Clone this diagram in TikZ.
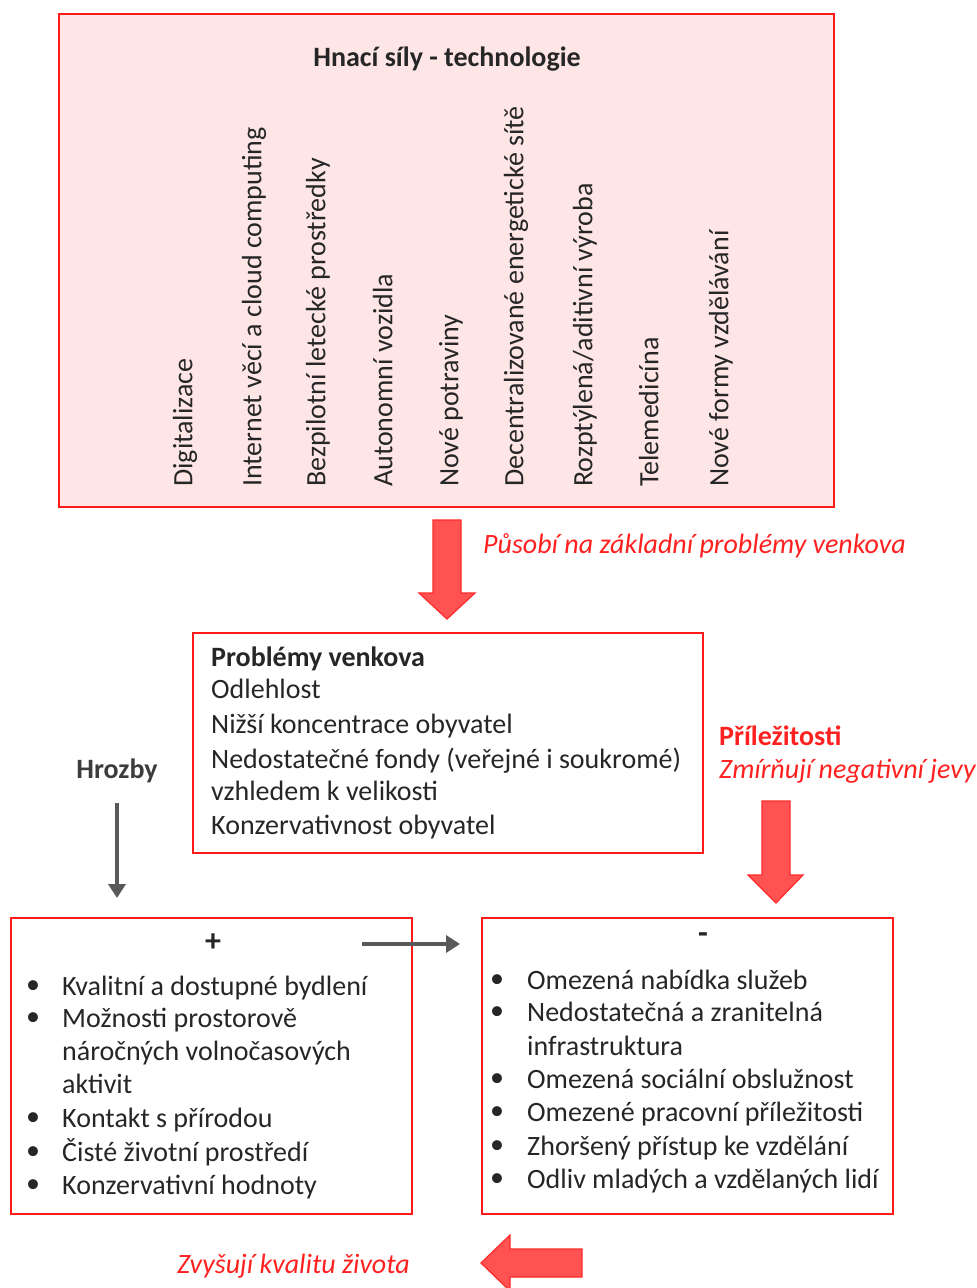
\documentclass[tikz,border=0pt]{standalone}
\usepackage{fontspec}
\setmainfont{Carlito}
\definecolor{boxred}{HTML}{FF1A1A}
\definecolor{pinkfill}{HTML}{FFE6E6}
\definecolor{arrowfill}{HTML}{FF5353}
\definecolor{arrowline}{HTML}{FF2A2A}
\definecolor{labred}{HTML}{FF2020}
\definecolor{txt}{HTML}{262626}
\definecolor{grayarrow}{HTML}{595959}
\usetikzlibrary{arrows.meta}
\tikzset{
  redbox/.style={draw=boxred, line width=1.6pt},
  body/.style={inner sep=0pt, anchor=mid west, text=txt, font=\fontsize{28}{33}\selectfont},
  vlab/.style={body, rotate=90},
  bul/.style={inner sep=0pt, anchor=mid, text=txt, font=\fontsize{28}{33}\selectfont},
  redlab/.style={inner sep=0pt, anchor=mid west, text=labred, font=\fontsize{28}{33}\selectfont\itshape},
  blockarrow/.style={fill=arrowfill, draw=arrowline, line width=1.2pt, line join=miter},
  grayarr/.style={draw=grayarrow, line width=3.5pt, -{Triangle[length=14pt,width=17pt]}}
}
\begin{document}
\begin{tikzpicture}[x=1pt,y=-1pt]
\useasboundingbox (0,0) rectangle (977,1288);
% top box
\draw[redbox, fill=pinkfill] (59,14) rectangle (834,507);
\node[inner sep=0pt, text=txt, font=\fontsize{28}{33}\selectfont\bfseries] (title) at (447,59) {Hnací síly - technologie};
\node[vlab] (t1) at (190,487) {Digitalizace};
\node[vlab] (t2) at (259,487) {Internet věcí a cloud computing};
\node[vlab] (t3) at (323,487) {Bezpilotní letecké prostředky};
\node[vlab] (t4) at (390,487) {Autonomní vozidla};
\node[vlab] (t5) at (456,487) {Nové potraviny};
\node[vlab] (t6) at (521,487) {Decentralizované energetické sítě};
\node[vlab] (t7) at (590,487) {Rozptýlená/aditivní výroba};
\node[vlab] (t8) at (656,487) {Telemedicína};
\node[vlab] (t9) at (726,487) {Nové formy vzdělávání};
% arrow 1
\draw[blockarrow] (433,520) -- (461,520) -- (461,593) -- (475,593) -- (447,619) -- (419,593) -- (433,593) -- cycle;
\node[redlab] (l1) at (483,551) {Působí na základní problémy venkova};
% middle box
\draw[redbox] (193,633) rectangle (703,853);
\node[body, font=\fontsize{28}{33}\selectfont\bfseries] (m0) at (211,664) {Problémy venkova};
\node[body] (m1) at (211,696) {Odlehlost};
\node[body] (m2) at (211,731) {Nižší koncentrace obyvatel};
\node[body] (m3) at (211,766) {Nedostatečné fondy (veřejné i soukromé)};
\node[body] (m4) at (211,798) {vzhledem k velikosti};
\node[body] (m5) at (211,832) {Konzervativnost obyvatel};
% Hrozby
\node[inner sep=0pt, text=txt!90, font=\fontsize{28}{33}\selectfont\bfseries] (hr) at (117,771) {Hrozby};
\coordinate (g1s) at (117,803);
\coordinate (g1e) at (117,898);
\draw[grayarr] (g1s) -- (g1e);
% Prilezitosti
\node[inner sep=0pt, anchor=mid west, text=labred, font=\fontsize{28}{33}\selectfont\bfseries] (pr) at (719,743) {Příležitosti};
\node[redlab] (pr2) at (719,776) {Zmírňují negativní jevy};
\draw[blockarrow] (762,801) -- (790,801) -- (790,875) -- (803,875) -- (776,903) -- (748,875) -- (762,875) -- cycle;
% left box
\draw[redbox] (11,918) rectangle (412,1214);
\node[inner sep=0pt, text=txt, font=\fontsize{32}{33}\selectfont\bfseries] (plus) at (213,943) {+};
\foreach \y/\t [count=\i] in {993/Kvalitní a dostupné bydlení, 1025/Možnosti prostorově, 1058/náročných volnočasových, 1091/aktivit, 1125/Kontakt s přírodou, 1159/Čisté životní prostředí, 1192/Konzervativní hodnoty}{
  \node[body] (a\i) at (62,\y) {\t};
}
\foreach \y [count=\i] in {991,1023,1123,1157,1190}{
  \node[bul] (ab\i) at (33,\y) {•};
}
% gray horizontal arrow
\coordinate (g2s) at (362,944);
\coordinate (g2e) at (460,944);
\draw[grayarr] (g2s) -- (g2e);
% right box
\draw[redbox] (482,918) rectangle (893,1214);
\node[inner sep=0pt, text=txt, font=\fontsize{32}{33}\selectfont\bfseries] (minus) at (703,938) {-};
\foreach \y/\t [count=\i] in {987/Omezená nabídka služeb, 1019/Nedostatečná a zranitelná, 1053/infrastruktura, 1086/Omezená sociální obslužnost, 1119/Omezené pracovní příležitosti, 1153/Zhoršený přístup ke vzdělání, 1186/Odliv mladých a vzdělaných lidí}{
  \node[body] (b\i) at (527,\y) {\t};
}
\foreach \y [count=\i] in {985,1017,1084,1117,1151,1184}{
  \node[bul] (bb\i) at (497,\y) {•};
}
% bottom arrow
\draw[blockarrow] (582,1249) -- (582,1277) -- (510,1277) -- (510,1291) -- (481,1263) -- (510,1235) -- (510,1249) -- cycle;
\node[redlab] (l3) at (177,1271) {Zvyšují kvalitu života};
\end{tikzpicture}
\end{document}
